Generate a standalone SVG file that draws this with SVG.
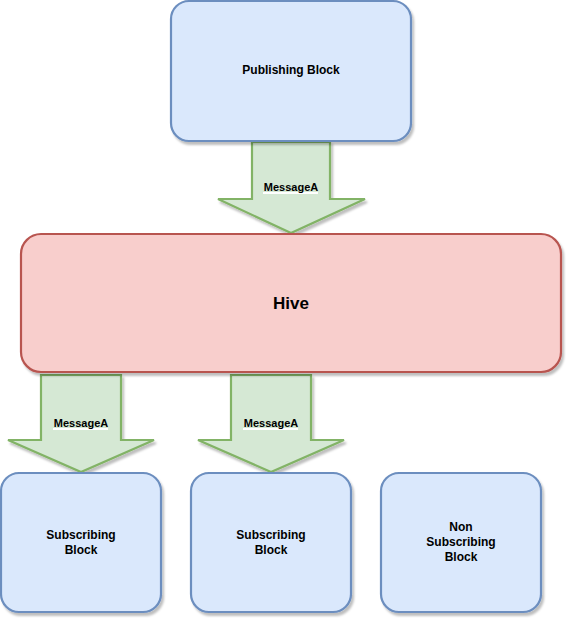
<svg xmlns="http://www.w3.org/2000/svg" width="566" height="621" viewBox="0 0 566 621">
<defs>
<filter id="sh" x="-10%" y="-10%" width="130%" height="130%">
<feDropShadow dx="2" dy="3" stdDeviation="1" flood-color="#000" flood-opacity="0.25"/>
</filter>
<style>
.blk{fill:#dae8fc;stroke:#6c8ebf;stroke-width:2.2;filter:url(#sh)}
.hive{fill:#f8cecc;stroke:#b85450;stroke-width:2.2;filter:url(#sh)}
.arr{fill:#d5e8d4;stroke:#82b366;stroke-width:2.2;filter:url(#sh)}
.t{font-family:"Liberation Sans",Arial,sans-serif;font-weight:bold;fill:#000;text-anchor:middle}
.t12{font-size:12px}
.t11{font-size:11px}
.t17{font-size:17px}
.lb{fill:#fff}
</style>
</defs>
<g id="connectors">
<g id="arrow-pub-hive">
<path class="arr" d="M252,142 L330,142 L330,199 L365,199 L291,233 L218,199 L252,199 Z"/>
<rect class="lb" x="263" y="192" width="55" height="2"/>
<text class="t t11" x="291" y="191">MessageA</text>
</g>
<g id="arrow-hive-sub1">
<path class="arr" d="M41,375 L121,375 L121,440 L154,440 L81,472 L8,440 L41,440 Z"/>
<rect class="lb" x="53" y="428" width="55" height="2"/>
<text class="t t11" x="81" y="427">MessageA</text>
</g>
<g id="arrow-hive-sub2">
<path class="arr" d="M231,375 L311,375 L311,440 L344,440 L271,472 L198,440 L231,440 Z"/>
<rect class="lb" x="243" y="428" width="55" height="2"/>
<text class="t t11" x="271" y="427">MessageA</text>
</g>
</g>
<g id="publishing-block">
<rect class="blk" x="171" y="1" width="240" height="140" rx="18" ry="18"/>
<text class="t t12" x="291" y="74">Publishing Block</text>
</g>
<g id="hive">
<rect class="hive" x="21" y="234" width="540" height="138" rx="20" ry="20"/>
<text class="t t17" x="291" y="309">Hive</text>
</g>
<g id="subscribing-block-1">
<rect class="blk" x="1" y="473" width="160" height="139" rx="18" ry="18"/>
<text class="t t12" x="81" y="539">Subscribing</text>
<text class="t t12" x="81" y="554">Block</text>
</g>
<g id="subscribing-block-2">
<rect class="blk" x="191" y="473" width="160" height="139" rx="18" ry="18"/>
<text class="t t12" x="271" y="539">Subscribing</text>
<text class="t t12" x="271" y="554">Block</text>
</g>
<g id="non-subscribing-block">
<rect class="blk" x="381" y="473" width="160" height="139" rx="18" ry="18"/>
<text class="t t12" x="461" y="531">Non</text>
<text class="t t12" x="461" y="546">Subscribing</text>
<text class="t t12" x="461" y="561">Block</text>
</g>
</svg>
